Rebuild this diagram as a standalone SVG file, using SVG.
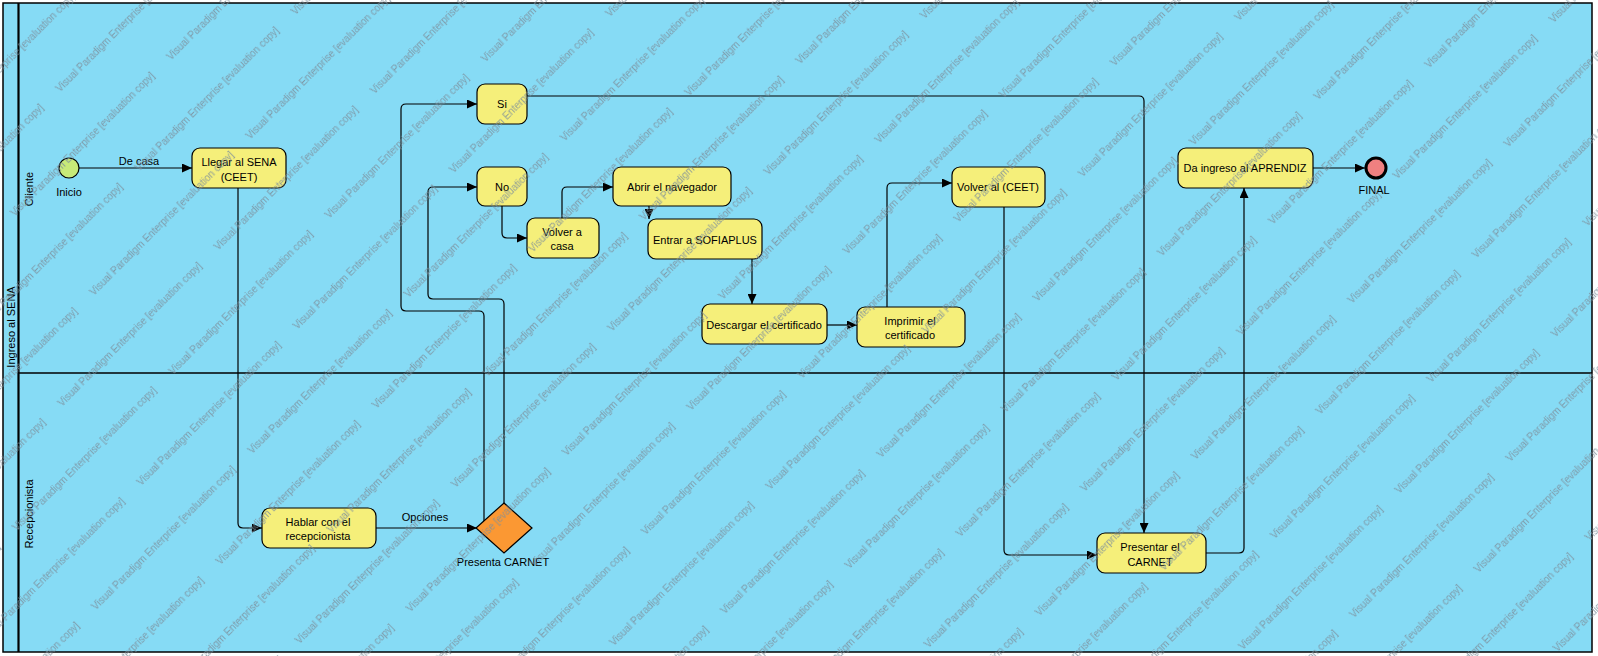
<svg xmlns="http://www.w3.org/2000/svg" width="1598" height="656" viewBox="0 0 1598 656">
<style>
.t{font-family:"Liberation Sans",Arial,sans-serif;font-size:11px;fill:#000;text-anchor:middle}
.task{fill:#f5ef7a;stroke:#000;stroke-width:1.2}
.c{fill:none;stroke:#000;stroke-width:1.2}
.wm{font-family:"Liberation Sans",Arial,sans-serif;font-size:10px;fill:#7d8e9b;fill-opacity:0.85}
.ln{stroke:#000;fill:none}
</style>
<defs>
<marker id="ah" markerUnits="userSpaceOnUse" markerWidth="11" markerHeight="9" refX="10" refY="4.5" orient="auto">
<path d="M0,0 L10,4.5 L0,9 z" fill="#000"/>
</marker>
<pattern id="wmp" patternUnits="userSpaceOnUse" width="221" height="111.9" patternTransform="rotate(-45)">
<text class="wm" x="-23" y="108.4">Visual Paradigm Enterprise [evaluation copy]</text>
<text class="wm" x="198" y="108.4">Visual Paradigm Enterprise [evaluation copy]</text>
<text class="wm" x="78" y="52.45">Visual Paradigm Enterprise [evaluation copy]</text>
<text class="wm" x="-143" y="52.45">Visual Paradigm Enterprise [evaluation copy]</text>
</pattern>
</defs>
<rect x="0" y="0" width="1598" height="656" fill="#fff"/>
<g id="pool">
<rect x="3" y="3" width="1589" height="649" fill="#86dbf5" stroke="#000" stroke-width="1.5"/>
<line class="ln" x1="18.5" y1="3" x2="18.5" y2="652" stroke-width="2.2"/>
<line class="ln" x1="18" y1="373" x2="1592" y2="373" stroke-width="1.3"/>
<text class="t" transform="translate(15,327) rotate(-90)">Ingreso al SENA</text>
</g>
<g id="lane-cliente">
<text class="t" transform="translate(33,189) rotate(-90)">Cliente</text>
</g>
<g id="lane-recepcionista">
<text class="t" transform="translate(33,514) rotate(-90)">Recepcionista</text>
</g>
<g id="connectors">
<path class="c" marker-end="url(#ah)" d="M79,168 H192"/>
<text class="t" x="139" y="165">De casa</text>
<path class="c" marker-end="url(#ah)" d="M238,188 V523 Q238,528 243,528 H262"/>
<path class="c" marker-end="url(#ah)" d="M376,528 H477"/>
<text class="t" x="425" y="521">Opciones</text>
<path class="c" marker-end="url(#ah)" d="M484,521.5 V316 Q484,311 479,311 H406 Q401,311 401,306 V109 Q401,104 406,104 H477"/>
<path class="c" marker-end="url(#ah)" d="M504,503.5 V304 Q504,299 499,299 H433 Q428,299 428,294 V192 Q428,187 433,187 H477"/>
<path class="c" marker-end="url(#ah)" d="M502,206 V233 Q502,238 507,238 H527"/>
<path class="c" marker-end="url(#ah)" d="M562,218 V192 Q562,187 567,187 H613"/>
<path class="c" marker-end="url(#ah)" d="M649,206 V219"/>
<path class="c" marker-end="url(#ah)" d="M752,259 V304"/>
<path class="c" marker-end="url(#ah)" d="M827,325 H857"/>
<path class="c" marker-end="url(#ah)" d="M887,307 V188 Q887,183 892,183 H952"/>
<path class="c" marker-end="url(#ah)" d="M1004,207 V550 Q1004,555 1009,555 H1097"/>
<path class="c" marker-end="url(#ah)" d="M527,96 H1139 Q1144,96 1144,101 V533"/>
<path class="c" marker-end="url(#ah)" d="M1206,553 H1239 Q1244,553 1244,548 V188"/>
<path class="c" marker-end="url(#ah)" d="M1313,168 H1365"/>
</g>
<g id="inicio">
<circle cx="69" cy="168" r="10" fill="#c7ea78" stroke="#000" stroke-width="1.2"/>
<text class="t" x="69" y="196">Inicio</text>
</g>
<g id="llegar">
<rect class="task" x="192" y="148" width="94" height="40" rx="8"/>
<text class="t" x="239" y="166">Llegar al SENA</text>
<text class="t" x="239" y="181">(CEET)</text>
</g>
<g id="hablar">
<rect class="task" x="262" y="508" width="114" height="40" rx="8"/>
<text class="t" x="318" y="526">Hablar con el</text>
<text class="t" x="318" y="540">recepcionista</text>
</g>
<g id="presenta-carnet">
<polygon points="504,503 532,528 504,553 476,528" fill="#fb9833" stroke="#000" stroke-width="1.2"/>
<text class="t" x="503" y="566">Presenta CARNET</text>
</g>
<g id="si">
<rect class="task" x="477" y="84" width="50" height="40" rx="8"/>
<text class="t" x="502" y="108">Si</text>
</g>
<g id="no">
<rect class="task" x="477" y="167" width="50" height="39" rx="8"/>
<text class="t" x="502" y="191">No</text>
</g>
<g id="volver-casa">
<rect class="task" x="527" y="218" width="72" height="40" rx="8"/>
<text class="t" x="562" y="236">Volver a</text>
<text class="t" x="562" y="250">casa</text>
</g>
<g id="abrir">
<rect class="task" x="613" y="167" width="118" height="39" rx="8"/>
<text class="t" x="672" y="191">Abrir el navegador</text>
</g>
<g id="entrar">
<rect class="task" x="648" y="219" width="114" height="40" rx="8"/>
<text class="t" x="705" y="244">Entrar a SOFIAPLUS</text>
</g>
<g id="descargar">
<rect class="task" x="702" y="304" width="125" height="40" rx="8"/>
<text class="t" x="764" y="329">Descargar el certificado</text>
</g>
<g id="imprimir">
<rect class="task" x="857" y="307" width="108" height="40" rx="8"/>
<text class="t" x="910" y="325">Imprimir el</text>
<text class="t" x="910" y="339">certificado</text>
</g>
<g id="volver-ceet">
<rect class="task" x="952" y="167" width="93" height="40" rx="8"/>
<text class="t" x="998" y="191">Volver al (CEET)</text>
</g>
<g id="presentar">
<rect class="task" x="1097" y="533" width="109" height="40" rx="8"/>
<text class="t" x="1150" y="551">Presentar el</text>
<text class="t" x="1150" y="566">CARNET</text>
</g>
<g id="da-ingreso">
<rect class="task" x="1178" y="148" width="135" height="40" rx="8"/>
<text class="t" x="1245" y="172">Da ingreso al APRENDIZ</text>
</g>
<g id="final">
<circle cx="1376" cy="168" r="10" fill="#f08080" stroke="#000" stroke-width="3"/>
<text class="t" x="1374" y="194">FINAL</text>
</g>
<g id="watermark">
<rect x="0" y="0" width="1598" height="656" fill="url(#wmp)"/>
</g>
</svg>
